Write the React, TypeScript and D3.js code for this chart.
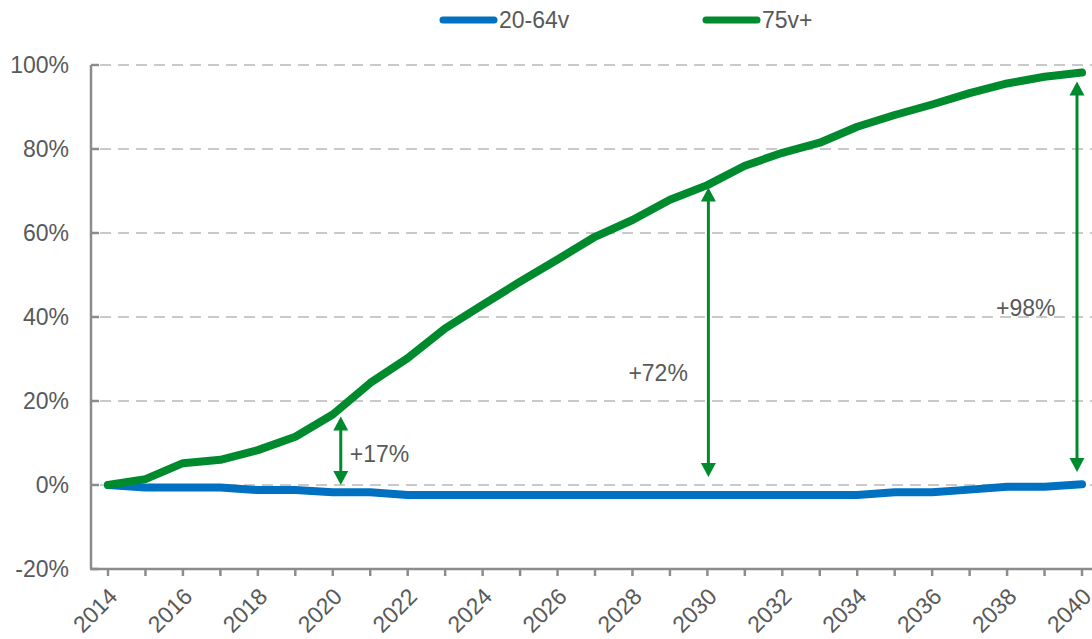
import React from "react";
import * as d3 from "d3";

const years = d3.range(2014, 2041);
const workingAge = [
  0, -0.6, -0.6, -0.6, -1.2, -1.2, -1.7, -1.7, -2.4, -2.4, -2.4, -2.4, -2.4, -2.4,
  -2.4, -2.4, -2.4, -2.4, -2.4, -2.4, -2.4, -1.7, -1.7, -1.1, -0.4, -0.4, 0.2,
];
const elderly = [
  0, 1.4, 5.2, 6.0, 8.3, 11.5, 16.8, 24.3, 30.2, 37.3, 42.9, 48.4, 53.7, 59.1,
  63.1, 67.9, 71.4, 76.0, 79.1, 81.5, 85.3, 88.1, 90.6, 93.3, 95.6, 97.2, 98.2,
];
const yTicks = [-20, 0, 20, 40, 60, 80, 100];
const seriesNames = ["20-64v", "75v+"];
const seriesColors = ["#0070C0", "#008A2E"];
const callouts = [
  { year: 2020, value: 17, label: "+17%" },
  { year: 2030, value: 72, label: "+72%" },
  { year: 2040, value: 98, label: "+98%" },
];

const W = 1092;
const H = 639;
const FONT = "'Liberation Sans', Arial, sans-serif";
const TEXT = "#595959";
const AXIS = "#8c8c8c";
const GRID = "#c9c9c9";

export default function App() {
  const x = d3.scalePoint<number>().domain(years).range([108, 1082]);
  const y = d3.scaleLinear().domain([-20, 100]).range([569, 65]);
  const line = d3
    .line<number>()
    .x((_, i) => x(years[i]) as number)
    .y((d) => y(d));

  const series = [workingAge, elderly];
  const arrowDx = [8, 1, -5];
  const arrowGapTop = [3, 5, 8];
  const arrowGapBottom = [0, 8, 13];
  const labelPos = [
    { dx: 9, v: 7.5 },
    { dx: -80, v: 26.7 },
    { dx: -81, v: 42.3 },
  ];

  return (
    <svg
      width={W}
      height={H}
      style={{ position: "absolute", left: 0, top: 0, background: "#fff" }}
      fontFamily={FONT}
    >
      {/* gridlines */}
      {yTicks
        .filter((t) => t !== -20)
        .map((t) => (
          <line
            key={"g" + t}
            x1={100}
            x2={W}
            y1={y(t)}
            y2={y(t)}
            stroke={GRID}
            strokeWidth={2}
            strokeDasharray="11 7"
          />
        ))}

      {/* y axis */}
      <line x1={91} x2={91} y1={y(100)} y2={y(-20)} stroke={AXIS} strokeWidth={2.5} />
      {yTicks.map((t) => (
        <g key={"y" + t}>
          <line x1={91} x2={99} y1={y(t)} y2={y(t)} stroke={AXIS} strokeWidth={2.5} />
          <text
            x={69}
            y={y(t)}
            dy="0.36em"
            textAnchor="end"
            fontSize={23}
            fill={TEXT}
          >
            {t + "%"}
          </text>
        </g>
      ))}

      {/* x axis */}
      <line x1={90} x2={W} y1={y(-20)} y2={y(-20)} stroke={AXIS} strokeWidth={2.5} />
      {years.map((yr) => (
        <g key={"x" + yr}>
          <line
            x1={x(yr)}
            x2={x(yr)}
            y1={y(-20)}
            y2={y(-20) + 7}
            stroke={AXIS}
            strokeWidth={2.5}
          />
          {yr % 2 === 0 && (
            <text
              transform={`translate(${(x(yr) as number) + 5},${y(-20) + 23}) rotate(-45)`}
              textAnchor="end"
              dy="0.36em"
              fontSize={23}
              fill={TEXT}
            >
              {yr}
            </text>
          )}
        </g>
      ))}

      {/* series lines */}
      {series.map((s, i) => (
        <path
          key={"s" + i}
          d={line(s) as string}
          fill="none"
          stroke={seriesColors[i]}
          strokeWidth={8}
          strokeLinecap="round"
          strokeLinejoin="round"
        />
      ))}

      {/* growth callouts */}
      {callouts.map((c, i) => {
        const cx = (x(c.year) as number) + arrowDx[i];
        const top = y(c.value) + arrowGapTop[i];
        const bottom = y(0) - arrowGapBottom[i];
        const hw = 7.5;
        const hh = 14;
        const col = seriesColors[1];
        return (
          <g key={"c" + i}>
            <line x1={cx} x2={cx} y1={top + hh - 1} y2={bottom - hh + 1} stroke={col} strokeWidth={3} />
            <path d={`M${cx},${top} L${cx - hw},${top + hh} L${cx + hw},${top + hh} Z`} fill={col} />
            <path
              d={`M${cx},${bottom} L${cx - hw},${bottom - hh} L${cx + hw},${bottom - hh} Z`}
              fill={col}
            />
            <text
              x={cx + labelPos[i].dx}
              y={y(labelPos[i].v)}
              dy="0.36em"
              fontSize={23}
              fill={TEXT}
            >
              {c.label}
            </text>
          </g>
        );
      })}

      {/* legend */}
      {seriesNames.map((n, i) => {
        const lx = [440, 703][i];
        return (
          <g key={"l" + i}>
            <line
              x1={lx + 3}
              x2={lx + 54}
              y1={20}
              y2={20}
              stroke={seriesColors[i]}
              strokeWidth={7}
              strokeLinecap="round"
            />
            <text x={lx + 59} y={20} dy="0.36em" fontSize={23} fill={TEXT}>
              {n}
            </text>
          </g>
        );
      })}
    </svg>
  );
}
